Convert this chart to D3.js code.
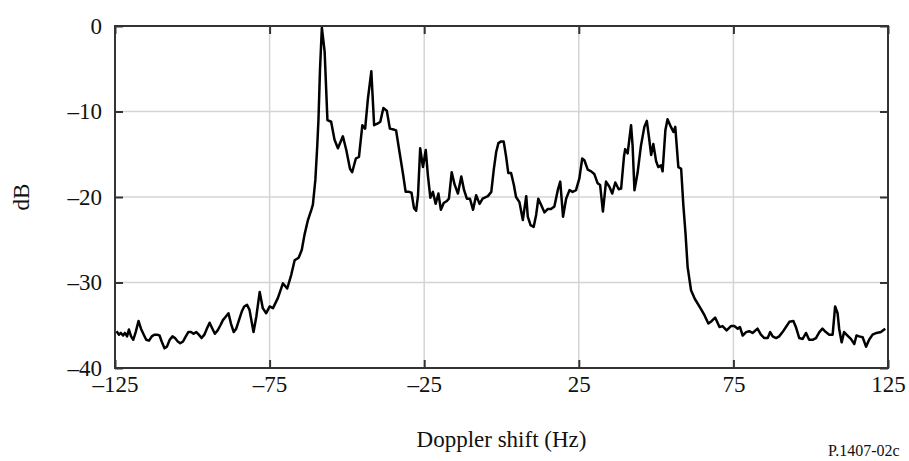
<!DOCTYPE html>
<html>
<head>
<meta charset="utf-8">
<script src="https://cdn.jsdelivr.net/npm/d3@7"></script>
<style>
  body { margin: 0; background: #fff; }
  svg text { font-family: "Liberation Serif", "Times New Roman", serif; fill: #111; }
</style>
</head>
<body>
<svg id="chart"></svg>
<script>
// Doppler spectrum
const freqHz = [
  -124.5, -123.7, -123.1, -122.4, -121.8, -121.1, -120.5, -119.8, -119.1, -118.3,
  -117.4, -116.6, -115.7, -114.9, -114.0, -113.1, -112.3, -111.4, -110.6, -109.9,
  -109.0, -108.2, -107.3, -106.4, -105.6, -104.7, -103.9, -103.0, -102.1, -101.3,
  -100.4, -99.6, -98.7, -97.9, -97.0, -96.1, -95.3, -94.4, -93.5, -92.7,
  -91.8, -90.9, -90.1, -89.2, -88.3, -87.5, -86.6, -85.8, -84.9, -84.0,
  -83.2, -82.3, -81.5, -80.2, -79.3, -78.2, -77.2, -76.1, -75.0, -73.9,
  -72.3, -70.7, -69.3, -68.0, -66.9, -65.6, -64.6, -63.7, -62.6, -61.5,
  -61.0, -60.2, -59.6, -59.2, -58.7, -58.1, -57.2, -56.3, -55.1, -54.0,
  -52.9, -51.3, -50.2, -49.0, -48.3, -47.1, -46.1, -45.0, -44.1, -43.2,
  -42.1, -41.2, -40.0, -39.2, -38.2, -37.1, -36.1, -34.9, -34.1, -33.0,
  -31.9, -31.0, -29.9, -29.1, -28.3, -27.6, -27.0, -26.3, -25.4, -24.5,
  -23.8, -23.0, -22.2, -21.3, -20.4, -19.6, -18.7, -17.8, -17.0, -16.1,
  -15.2, -14.1, -13.0, -12.1, -11.2, -10.2, -9.2, -8.2, -7.1, -6.1,
  -4.4, -3.3, -2.5, -1.7, -1.0, -0.1, 0.7, 1.5, 2.2, 3.1,
  4.0, 4.7, 5.8, 6.9, 8.0, 8.5, 9.4, 10.4, 11.2, 11.9,
  12.8, 13.9, 15.0, 16.0, 17.1, 18.2, 19.0, 19.9, 20.9, 22.0,
  23.0, 24.1, 25.2, 26.1, 26.8, 27.9, 29.0, 30.0, 31.1, 31.9,
  32.8, 33.8, 34.9, 35.8, 36.8, 37.9, 38.7, 39.6, 40.0, 40.8,
  41.9, 42.4, 43.0, 44.0, 45.1, 46.2, 47.0, 47.8, 48.4, 49.1,
  50.0, 50.7, 51.6, 52.1, 53.0, 53.7, 54.8, 55.6, 56.2, 57.2,
  58.1, 58.8, 59.5, 60.2, 61.3, 62.5, 64.0, 65.6, 66.9, 68.0,
  69.1, 70.5, 71.5, 72.8, 74.2, 75.3, 76.4, 77.1, 78.0, 79.1,
  80.1, 81.2, 82.8, 83.9, 85.0, 86.1, 86.9, 87.7, 88.8, 89.8,
  90.9, 92.0, 93.1, 94.4, 95.2, 96.3, 97.4, 98.5, 99.5, 100.6,
  101.7, 102.8, 103.8, 104.9, 106.0, 107.1, 107.9, 108.7, 109.2, 110.0,
  110.8, 111.9, 113.0, 114.1, 114.8, 115.7, 116.8, 117.9, 118.9, 120.0,
  121.3, 122.7, 124.1
];

const levelDb = [
  -35.7, -36.1, -35.9, -36.2, -35.9, -36.3, -35.5, -36.3, -36.7, -35.8,
  -34.5, -35.4, -36.1, -36.7, -36.8, -36.3, -36.1, -36.1, -36.2, -36.9,
  -37.7, -37.5, -36.7, -36.3, -36.5, -36.9, -37.1, -36.9, -36.3, -35.8,
  -35.8, -36.0, -35.8, -36.1, -36.5, -36.1, -35.4, -34.7, -35.4, -36.0,
  -35.6, -35.0, -34.4, -34.0, -33.6, -34.8, -35.8, -35.4, -34.4, -33.4,
  -32.8, -32.6, -33.2, -35.8, -34.0, -31.1, -33.0, -33.6, -32.8, -33.0,
  -31.8, -30.1, -30.7, -29.1, -27.4, -27.1, -26.2, -24.4, -22.7, -21.5,
  -20.9, -18.0, -14.1, -11.0, -5.1, -0.2, -3.0, -11.0, -11.2, -13.3,
  -14.3, -12.9, -14.5, -16.7, -17.1, -15.5, -15.3, -11.6, -12.0, -8.5,
  -5.3, -11.6, -11.4, -11.2, -9.6, -9.9, -12.0, -12.1, -12.2, -14.7,
  -17.2, -19.4, -19.4, -19.5, -21.3, -21.6, -19.8, -14.3, -16.5, -14.5,
  -17.5, -20.1, -19.4, -20.8, -19.6, -21.5, -20.7, -20.5, -20.2, -17.1,
  -18.5, -19.6, -17.6, -19.2, -20.2, -20.2, -21.5, -19.8, -20.8, -20.2,
  -19.9, -19.4, -16.8, -14.7, -13.7, -13.5, -13.5, -15.3, -17.2, -17.2,
  -18.6, -20.0, -20.6, -22.7, -19.9, -22.3, -23.3, -23.5, -22.1, -20.2,
  -20.9, -21.8, -21.4, -21.4, -21.1, -19.2, -18.2, -22.3, -20.2, -19.2,
  -19.4, -19.2, -17.8, -15.5, -15.7, -16.8, -17.0, -17.3, -18.4, -18.6,
  -21.7, -18.2, -18.8, -19.6, -18.3, -19.1, -19.0, -15.3, -14.4, -14.9,
  -11.6, -14.0, -19.2, -17.2, -14.0, -11.8, -11.1, -13.3, -15.1, -13.8,
  -15.8, -16.5, -16.3, -17.0, -12.2, -10.9, -11.8, -12.4, -11.8, -16.5,
  -16.7, -20.9, -24.2, -28.2, -30.9, -31.9, -32.8, -33.8, -34.8, -34.5,
  -34.1, -35.2, -35.1, -35.6, -35.1, -35.1, -35.4, -35.2, -36.2, -35.8,
  -35.7, -35.9, -35.4, -36.1, -36.5, -36.5, -35.8, -36.3, -36.5, -36.3,
  -35.8, -35.2, -34.6, -34.5, -35.2, -36.5, -36.6, -35.9, -36.7, -36.7,
  -36.5, -35.8, -35.4, -35.8, -36.1, -36.1, -32.8, -33.6, -35.4, -37.0,
  -35.8, -36.2, -36.6, -37.2, -36.2, -36.3, -36.4, -37.5, -36.7, -36.1,
  -35.9, -35.8, -35.4
];

const xTicks = [-125, -75, -25, 25, 75, 125];
const yTicks = [0, -10, -20, -30, -40];

const width = 909;
const height = 461;
const marginLeft = 115;
const marginRight = 21;
const marginTop = 26;
const marginBottom = 93;

const frameColor = '#333';
const gridColor = '#d4d4d4';

const fmt = v => (v < 0 ? '\u2013' + Math.abs(v) : String(v));

const svg = d3.select('#chart')
  .attr('width', width)
  .attr('height', height);

const innerW = width - marginLeft - marginRight;
const innerH = height - marginTop - marginBottom;

const x = d3.scaleLinear().domain([-125, 125]).range([0, innerW]);
const y = d3.scaleLinear().domain([-40, 0]).range([innerH, 0]);

const g = svg.append('g')
  .attr('transform', `translate(${marginLeft},${marginTop})`);

// grid lines
g.append('g')
  .selectAll('line')
  .data(xTicks.slice(1, -1))
  .join('line')
  .attr('x1', d => x(d)).attr('x2', d => x(d))
  .attr('y1', 0).attr('y2', innerH)
  .attr('stroke', gridColor)
  .attr('stroke-width', 1.5);

g.append('g')
  .selectAll('line')
  .data(yTicks.slice(1, -1))
  .join('line')
  .attr('y1', d => y(d)).attr('y2', d => y(d))
  .attr('x1', 0).attr('x2', innerW)
  .attr('stroke', gridColor)
  .attr('stroke-width', 1.5);

// spectrum
const points = freqHz.map((f, i) => ({ f, db: levelDb[i] }));
const line = d3.line()
  .x(d => x(d.f))
  .y(d => y(d.db));

g.append('path')
  .datum(points)
  .attr('fill', 'none')
  .attr('stroke', '#000')
  .attr('stroke-width', 2.5)
  .attr('stroke-linejoin', 'round')
  .attr('d', line);

// axes: ticks point inward on all four sides
const styleAxis = sel => {
  sel.select('.domain').remove();
  sel.selectAll('.tick line').attr('stroke', frameColor).attr('stroke-width', 2);
  sel.selectAll('text')
    .style('font-size', '23px')
    .style('font-family', '"Liberation Serif", serif')
    .attr('fill', '#111');
};

g.append('g')
  .attr('transform', `translate(0,${innerH})`)
  .call(d3.axisBottom(x).tickValues(xTicks).tickSize(-8).tickPadding(8).tickFormat(fmt))
  .call(styleAxis);

g.append('g')
  .call(d3.axisTop(x).tickValues(xTicks).tickSize(-8).tickFormat(''))
  .call(styleAxis);

g.append('g')
  .call(d3.axisLeft(y).tickValues(yTicks).tickSize(-8).tickPadding(13).tickFormat(fmt))
  .call(styleAxis);

g.append('g')
  .attr('transform', `translate(${innerW},0)`)
  .call(d3.axisRight(y).tickValues(yTicks).tickSize(-8).tickFormat(''))
  .call(styleAxis);

// frame
g.append('rect')
  .attr('width', innerW)
  .attr('height', innerH)
  .attr('fill', 'none')
  .attr('stroke', frameColor)
  .attr('stroke-width', 2);

// labels
svg.append('text')
  .attr('x', marginLeft + innerW / 2)
  .attr('y', 447)
  .attr('text-anchor', 'middle')
  .style('font-size', '23px')
  .text('Doppler shift (Hz)');

svg.append('text')
  .attr('transform', `translate(29,${marginTop + innerH / 2}) rotate(-90)`)
  .attr('text-anchor', 'middle')
  .style('font-size', '23px')
  .text('dB');

svg.append('text')
  .attr('x', 828)
  .attr('y', 456)
  .style('font-size', '16px')
  .text('P.1407-02c');
</script>
</body>
</html>
